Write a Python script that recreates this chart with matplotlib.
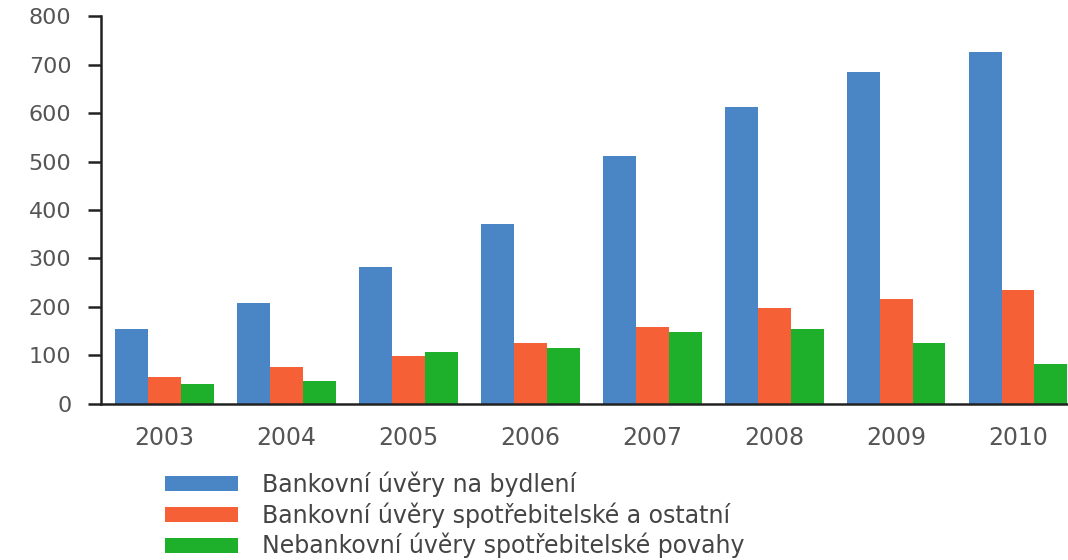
import matplotlib
matplotlib.use("Agg")
import matplotlib.pyplot as plt
import numpy as np

years = ["2003", "2004", "2005", "2006", "2007", "2008", "2009", "2010"]
housing = [155, 208, 282, 371, 512, 612, 685, 726]
consumer_bank = [56, 77, 99, 126, 159, 197, 216, 235]
consumer_nonbank = [41, 47, 107, 115, 148, 155, 125, 82]
labels = ["Bankovní úvěry na bydlení",
          "Bankovní úvěry spotřebitelské a ostatní",
          "Nebankovní úvěry spotřebitelské povahy"]
colors = ["#4A86C6", "#F56037", "#1EB02A"]
yticks = [0, 100, 200, 300, 400, 500, 600, 700, 800]

plt.rcParams['font.family'] = ['DejaVu Sans']
fig = plt.figure(figsize=(10.68, 5.6), dpi=100)
ax = fig.add_axes([0.0946, 0.2786, 0.9054, 0.6928])

x = np.arange(len(years))
w = 0.27
handles = []
for i, (vals, c) in enumerate(zip([housing, consumer_bank, consumer_nonbank], colors)):
    h = ax.bar(x + (i - 1) * w, vals, width=w, color=c, label=labels[i], zorder=2)
    handles.append(h)

ax.set_xlim(-0.52, 7.41)
ax.set_ylim(0, 800)
ax.set_yticks(yticks)
ax.set_yticklabels([str(v) for v in yticks])
ax.set_xticks(x)
ax.set_xticklabels(years)

for s in ["top", "right"]:
    ax.spines[s].set_visible(False)
ax.spines["left"].set_linewidth(1.8)
ax.spines["bottom"].set_linewidth(1.8)
ax.spines["left"].set_color("#222222")
ax.spines["bottom"].set_color("#222222")

ax.tick_params(axis="y", length=9.4, width=1.8, color="#222222", pad=12,
               labelsize=16, labelcolor="#555555")
ax.tick_params(axis="x", length=0, pad=16, labelsize=17, labelcolor="#555555")

fig.legend(handles=handles, labels=labels, loc="upper left",
           bbox_to_anchor=(0.1545, 0.158), frameon=False, fontsize=17,
           handlelength=3.1, handleheight=0.6, handletextpad=1.0,
           labelspacing=0.22, borderpad=0, borderaxespad=0,
           labelcolor="#444444")

fig.savefig("out.png", dpi=100, facecolor="white")
